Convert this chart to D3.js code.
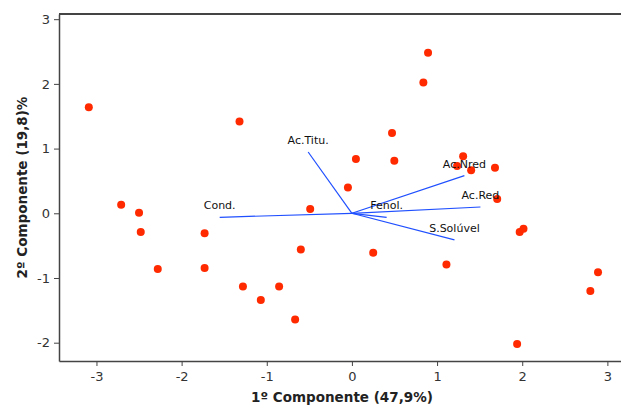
<!DOCTYPE html>
<html>
<head>
<meta charset="utf-8">
<script src="https://cdn.jsdelivr.net/npm/d3@7"></script>
<style>
  body { margin: 0; background: #fff; }
  svg { display: block; font-family: "DejaVu Sans", Verdana, sans-serif; }
</style>
</head>
<body>
<div id="chart"></div>
<script>
// scores on the two first components
const scoreX = [-3.09, -1.32, 0.894, 0.839, 0.471, 0.047, 0.498, -0.047, 1.306, 1.235, 1.40, 1.68,
  1.706, -0.49, 1.97, 2.015, -0.60, 0.25, 1.11, 2.89, 2.80, 1.94,
  -2.71, -2.50, -2.48, -2.28, -1.73, -1.73, -1.28, -1.07, -0.855, -0.667];
const scoreY = [1.64, 1.42, 2.48, 2.02, 1.24, 0.84, 0.81, 0.40, 0.88, 0.73, 0.665, 0.705,
  0.22, 0.066, -0.29, -0.24, -0.56, -0.61, -0.79, -0.91, -1.20, -2.02,
  0.13, 0.01, -0.29, -0.86, -0.31, -0.845, -1.13, -1.34, -1.13, -1.64];

// variable loadings (vectors)
const varNames = ["Ac.Titu.", "Cond.", "Ac.Nred", "Ac.Red", "Fenol.", "S.Solúvel"];
const varX = [-0.514, -1.553, 1.321, 1.509, 0.408, 1.204];
const varY = [0.947, -0.062, 0.581, 0.097, -0.062, -0.412];

const xTicks = [-3, -2, -1, 0, 1, 2, 3];
const yTicks = [-2, -1, 0, 1, 2, 3];

const width = 621, height = 405;
const margin = {top: 14, right: 0, bottom: 44, left: 59};

const svg = d3.select("#chart").append("svg")
  .attr("width", width)
  .attr("height", height);

const x = d3.scaleLinear().domain([-3.44, 3.16]).range([margin.left, width - margin.right]);
const y = d3.scaleLinear().domain([-2.283, 3.08]).range([height - margin.bottom, margin.top]);

// axes (plain hyphen for negatives, like the original)
const fmt = d => String(d);
const xAxis = svg.append("g")
  .attr("transform", `translate(0,${height - margin.bottom})`)
  .call(d3.axisBottom(x).tickValues(xTicks).tickSizeInner(5).tickSizeOuter(0).tickPadding(6).tickFormat(fmt));
const yAxis = svg.append("g")
  .attr("transform", `translate(${margin.left},0)`)
  .call(d3.axisLeft(y).tickValues(yTicks).tickSizeInner(5).tickSizeOuter(0).tickPadding(4).tickFormat(fmt));

[xAxis, yAxis].forEach(g => {
  g.select(".domain").attr("stroke", "#444").attr("stroke-width", 1.5);
  g.selectAll(".tick line").attr("stroke", "#444");
  g.selectAll(".tick text").attr("fill", "#333").style("font-size", "13px")
    .style("font-family", "'DejaVu Sans', sans-serif");
});

// top frame line
svg.append("line")
  .attr("x1", margin.left).attr("x2", width)
  .attr("y1", margin.top).attr("y2", margin.top)
  .attr("stroke", "#444").attr("stroke-width", 2);

// points
svg.append("g").selectAll("circle")
  .data(scoreX.map((d, i) => [d, scoreY[i]]))
  .enter().append("circle")
  .attr("cx", d => x(d[0]))
  .attr("cy", d => y(d[1]))
  .attr("r", 4)
  .attr("fill", "#ff2a00");

// loading vectors
const vecs = varNames.map((n, i) => ({name: n, vx: varX[i], vy: varY[i]}));
svg.append("g").selectAll("line")
  .data(vecs)
  .enter().append("line")
  .attr("x1", x(0)).attr("y1", y(0))
  .attr("x2", d => x(d.vx)).attr("y2", d => y(d.vy))
  .attr("stroke", "#1f4fff")
  .attr("stroke-width", 1.2);

svg.append("g").selectAll("text")
  .data(vecs)
  .enter().append("text")
  .attr("x", d => x(d.vx))
  .attr("y", d => y(d.vy) - 8)
  .attr("text-anchor", "middle")
  .style("font-size", "11px")
  .attr("fill", "#111")
  .text(d => d.name);

// axis titles
svg.append("text")
  .attr("x", (margin.left + width) / 2 + 2)
  .attr("y", 402)
  .attr("text-anchor", "middle")
  .style("font-size", "13.5px")
  .style("font-weight", "bold")
  .attr("fill", "#222")
  .text("1º Componente (47,9%)");

svg.append("text")
  .attr("transform", `translate(27,${(margin.top + height - margin.bottom) / 2}) rotate(-90)`)
  .attr("text-anchor", "middle")
  .style("font-size", "13.5px")
  .style("font-weight", "bold")
  .attr("fill", "#222")
  .text("2º Componente (19,8)%");
</script>
</body>
</html>
